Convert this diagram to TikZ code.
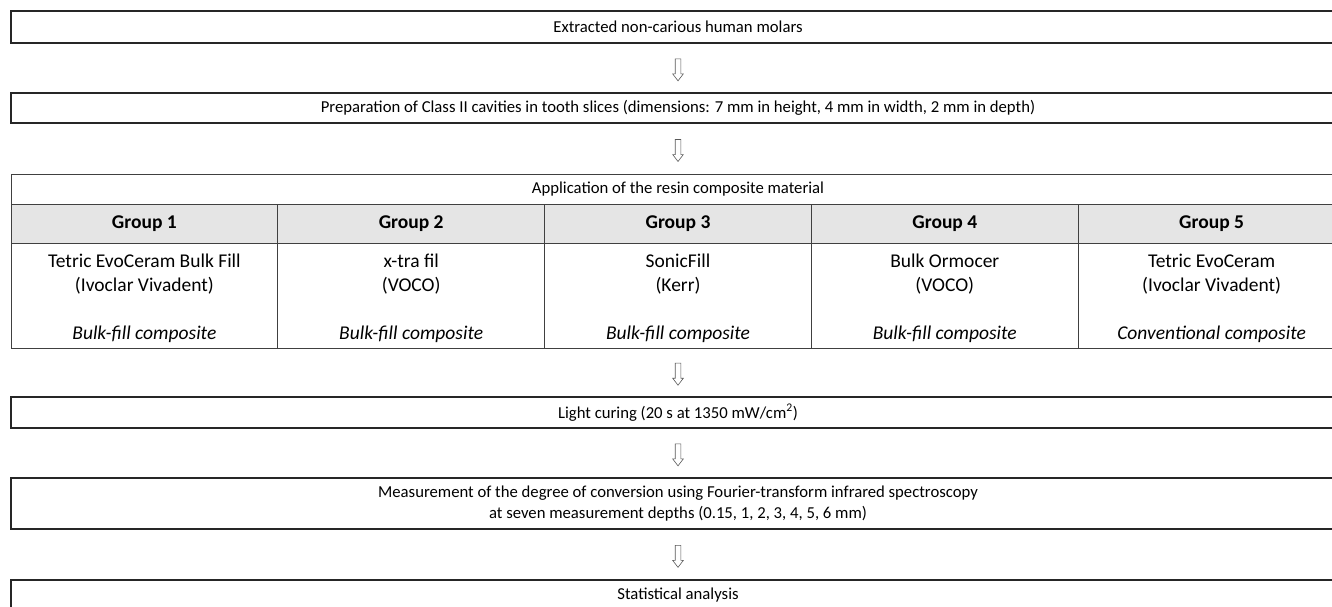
\documentclass[tikz,border=0pt]{standalone}
\usepackage{fontspec}
\setmainfont{Carlito}
\usetikzlibrary{calc, shapes.arrows}

\tikzset{
	stepbox/.style={draw=black!85, line width=1.6pt, minimum width=1334pt, inner sep=0pt, align=center, font=\fontsize{16.7}{21}\selectfont},
	cellbox/.style={draw=black!75, line width=1pt, minimum width=266.8pt, inner sep=0pt, align=center, font=\fontsize{19.5}{24}\selectfont},
	downarrow/.style={single arrow, draw=black!65, line width=0.6pt, shape border rotate=270, minimum height=22pt, inner xsep=2.5pt, inner ysep=0pt, single arrow head extend=2.5pt, single arrow tip angle=75}
}

\begin{document}
\begin{tikzpicture}[x=1pt, y=-1pt]
	\useasboundingbox (0,0) rectangle (1332,606);
	%steps above the table
	\node[stepbox, minimum height=32pt] (extract) at (678,27) {Extracted non-carious human molars};
	\node[stepbox, minimum height=30pt] (prep) at (678,108) {Preparation of Class II cavities in tooth slices (dimensions: 7 mm in height, 4 mm in width, 2 mm in depth)};
	%table of groups
	\node[cellbox, minimum width=1334pt, minimum height=30pt, font=\fontsize{16.7}{21}\selectfont] (apply) at (678,189) {Application of the resin composite material};
	\foreach \i/\name/\maker/\kind in {1/Tetric EvoCeram Bulk Fill/Ivoclar Vivadent/Bulk-fill composite, 2/x-tra fil/VOCO/Bulk-fill composite, 3/SonicFill/Kerr/Bulk-fill composite, 4/Bulk Ormocer/VOCO/Bulk-fill composite, 5/Tetric EvoCeram/Ivoclar Vivadent/Conventional composite}
	{
		\node[cellbox, fill=black!10, minimum height=39pt, font=\fontsize{19.5}{24}\selectfont\bfseries] (g\i) at ({144.4+266.8*(\i-1)},223.5) {Group \i};
		\node[cellbox, minimum height=105pt] (m\i) at ({144.4+266.8*(\i-1)},295.5) {\rule{0pt}{20pt}\name\\(\maker)\\[24pt]\textit{\kind}};
	}
	%steps below the table
	\node[stepbox, minimum height=31pt] (cure) at (678,412.5) {Light curing (20 s at 1350 mW/cm\textsuperscript{2})};
	\node[stepbox, minimum height=51pt] (measure) at (678,503.5) {Measurement of the degree of conversion using Fourier-transform infrared spectroscopy\\at seven measurement depths (0.15, 1, 2, 3, 4, 5, 6 mm)};
	\node[stepbox, minimum height=30pt] (stats) at (678,595) {Statistical analysis};
	%hollow arrows
	\node[downarrow] (a1) at ($(extract.south)!0.5!(prep.north)$) {};
	\node[downarrow] (a2) at ($(prep.south)!0.5!(apply.north)$) {};
	\node[downarrow] (a3) at ($(m3.south)!0.5!(cure.north)$) {};
	\node[downarrow] (a4) at ($(cure.south)!0.5!(measure.north)$) {};
	\node[downarrow] (a5) at ($(measure.south)!0.5!(stats.north)$) {};
\end{tikzpicture}
\end{document}
